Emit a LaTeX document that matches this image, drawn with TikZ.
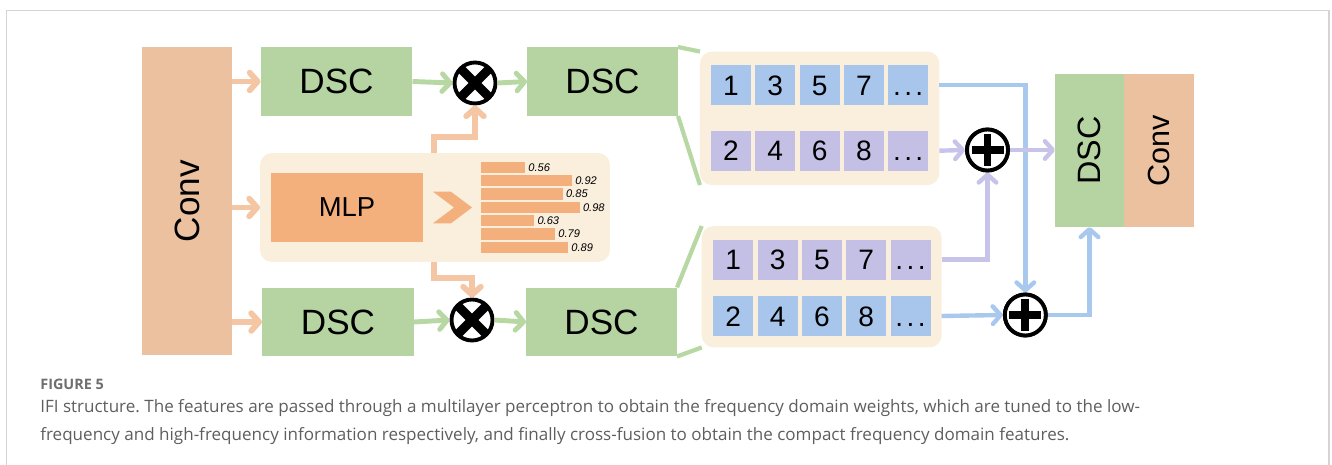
\documentclass[tikz,border=0pt]{standalone}
\usepackage{fontspec}
\setmainfont{Liberation Sans}
\newfontfamily\capfont{Open Sans}
\usetikzlibrary{arrows.meta,backgrounds}
\frenchspacing
\newcommand\celldots{.\kern0.12em.\kern0.12em.}

\definecolor{convc}{HTML}{EBC19F}
\definecolor{dscc}{HTML}{B5D4A1}
\definecolor{mlpc}{HTML}{F4B07C}
\definecolor{panelc}{HTML}{FAEEDC}
\definecolor{cellblue}{HTML}{A8C5EB}
\definecolor{celllav}{HTML}{C4C0E5}
\definecolor{arrorange}{HTML}{F5C6A3}
\definecolor{arrgreen}{HTML}{B7D8A3}
\definecolor{lineblue}{HTML}{A9C8EE}
\definecolor{linelav}{HTML}{C8C4E9}
\definecolor{framec}{HTML}{D4D4D4}
\definecolor{capgray}{HTML}{5E5E5E}

\begin{document}
\begin{tikzpicture}[x=0.02cm,y=-0.02cm,
  bigtxt/.style={font=\fontsize{20}{24}\selectfont},
  blk/.style={rectangle,inner sep=0pt,outer sep=0pt},
  convbox/.style={blk,fill=convc},
  dscbox/.style={blk,fill=dscc,minimum width=3.04cm,minimum height=1.38cm,bigtxt},
  panelbox/.style={blk,fill=panelc,rounded corners=0.24cm},
  cellbox/.style={blk,minimum size=0.8cm,text height=11.5pt,text depth=0pt,font=\fontsize{16}{19}\selectfont},
  barbox/.style={blk,fill=mlpc,minimum height=0.23cm,anchor=west},
  barlbl/.style={inner sep=0pt,anchor=west,font=\fontsize{6.3}{7}\selectfont\itshape},
  opnode/.style={circle,draw=black,line width=2.2pt,fill=white,minimum size=0.82cm,inner sep=0pt},
  tipbarb/.tip={Straight Barb[length=4.5pt,width=10pt,round]},
  oarr/.style={draw=arrorange,line width=3.3pt,-tipbarb},
  garr/.style={draw=arrgreen,line width=2.8pt,-tipbarb},
  gfan/.style={draw=arrgreen,line width=2.4pt},
  barr/.style={draw=lineblue,line width=2.5pt,-tipbarb},
  larr/.style={draw=linelav,line width=2.5pt,-tipbarb},
  captxt/.style={inner sep=0pt,anchor=base west,text=capgray,font=\capfont\fontsize{9.7}{11}\selectfont}]

\useasboundingbox (0,0) rectangle (1332,465);

% outer frame
\draw[framec,line width=0.9pt] (6.5,466) -- (6.5,10.5) -- (1329,10.5) -- (1329,466);

% input convolution
\node[convbox,minimum width=1.8cm,minimum height=6.16cm] (conv1) at (187,201) {};
\node[rotate=90,bigtxt,inner sep=0pt] (conv1t) at (conv1) {Conv};

% depthwise separable convolutions
\node[dscbox] (d1a) at (336.5,81.5) {DSC};
\node[dscbox] (d1b) at (338,322) {DSC};
\node[dscbox,minimum width=3.02cm] (d2a) at (602.5,81.5) {DSC};
\node[dscbox,minimum width=3.02cm] (d2b) at (601.5,322) {DSC};

% MLP weighting branch
\node[panelbox,minimum width=7cm,minimum height=2.18cm] (mpanel) at (435,207.5) {};
\node[blk,fill=mlpc,minimum width=3.04cm,minimum height=1.38cm,
      font=\fontsize{15.6}{18}\selectfont] (mlp) at (347,207.5) {MLP};
\fill[mlpc] (433,191.7) -- (451,191.7) -- (472,207.5) -- (451,223.3)
            -- (433,223.3) -- (454,207.5) -- cycle;
\foreach \v [count=\i from 0] in {0.56,0.92,0.85,0.98,0.63,0.79,0.89}{
  \pgfmathsetmacro\bw{(130*\v-28.5)*0.02}
  \node[barbox,minimum width=\bw cm] (bar\i) at (481,167.4+13.33*\i) {};
  \node[barlbl] (barl\i) at ([xshift=1.6pt]bar\i.east) {\v};
}

% multiplication operators
\node[opnode] (m1) at (475,83) {};
\node[opnode] (m2) at (472,320) {};
\foreach \m in {m1,m2}{
  \draw[line width=5.2pt,shift={(\m.center)}] (-13.5,-13.5) -- (13.5,13.5) (-13.5,13.5) -- (13.5,-13.5);
}

% frequency feature panels
\node[panelbox,minimum width=4.79cm,minimum height=2.67cm] (fa) at (819.7,118.3) {};
\node[panelbox,minimum width=4.8cm,minimum height=2.43cm] (fb) at (821.7,286.7) {};

\foreach \t [count=\i] in {1,3,5,7,\celldots}{
  \pgfmathsetmacro\cx{731+44.3*(\i-1)}
  \node[cellbox,fill=cellblue] (a\i) at (\cx,85) {\t};
}
\foreach \t [count=\i from 6] in {2,4,6,8,\celldots}{
  \pgfmathsetmacro\cx{731+44.3*(\i-6)}
  \node[cellbox,fill=celllav] (a\i) at (\cx,150.7) {\t};
}
\foreach \t [count=\i] in {1,3,5,7,\celldots}{
  \pgfmathsetmacro\cx{733.3+44.3*(\i-1)}
  \node[cellbox,fill=celllav] (b\i) at (\cx,259.7) {\t};
}
\foreach \t [count=\i from 6] in {2,4,6,8,\celldots}{
  \pgfmathsetmacro\cx{733.3+44.3*(\i-6)}
  \node[cellbox,fill=cellblue] (b\i) at (\cx,316) {\t};
}

% addition operators
\node[opnode] (p1) at (987.5,150) {};
\node[opnode] (p2) at (1025.3,315) {};

% output block
\node[blk,fill=dscc,minimum width=1.38cm,minimum height=3.06cm] (dscF) at (1089.5,150.5) {};
\node[rotate=90,inner sep=0pt,font=\fontsize{18.4}{22}\selectfont] (dscFt) at (dscF) {DSC};
\node[blk,fill=convc,minimum width=1.4cm,minimum height=3.06cm] (convF) at (1159,150.5) {};
\node[rotate=90,inner sep=0pt,font=\fontsize{17.4}{21}\selectfont] (convFt) at (convF) {Conv};

% fan-out lines behind the feature panels
\begin{scope}[on background layer]
  \draw[gfan] (d2a.north east) -- (fa.north west);
  \draw[gfan] (d2a.south east) -- (fa.south west);
  \draw[gfan] (d2b.north east) -- (fb.north west);
  \draw[gfan] (d2b.south east) -- (fb.south west);
\end{scope}

% input arrows
\draw[oarr] (conv1.east |- d1a.west) -- (d1a.west);
\draw[oarr] (conv1.east |- mpanel.west) -- (mpanel.west);
\draw[oarr] (conv1.east |- d1b.west) -- (d1b.west);

% weights into the multiplications
\coordinate (wtop) at (434,137);
\coordinate (wbot) at (434,278);
\draw[oarr] (wtop |- mpanel.north) -- (wtop) -| (m1.south);
\draw[oarr] (wbot |- mpanel.south) -- (wbot) -| (m2.north);

% DSC -> multiply -> DSC
\draw[garr] (d1a.east) -- (m1.west);
\draw[garr] (m1.east) -- (d2a.west);
\draw[garr] (d1b.east) -- (m2.west);
\draw[garr] (m2.east) -- (d2b.west);

% cross fusion
\draw[barr] (fa.east |- a5.east) -| (p2.north);
\draw[larr] (fa.east |- a10.east) -- (p1.west);
\draw[larr] (p1.east) -- (dscF.west |- p1.east);
\draw[larr] (fb.east |- b5.east) -| (p1.south);
\draw[barr] (fb.east |- b10.east) -- (p2.west);
\draw[barr] (p2.east) -| (dscF.south);

% plus signs drawn over the arrow tips
\foreach \p in {p1,p2}{
  \node[opnode] at (\p) {};
  \draw[line width=4.5pt,shift={(\p.center)}] (-16,0) -- (16,0) (0,-16) -- (0,16);
}

% caption
\node[captxt,font=\capfont\bfseries\fontsize{8.2}{10}\selectfont,text=capgray!90] (figlbl) at (40,390) {FIGURE 5};
\node[captxt] (cap1) at (40,413) {IFI structure. The features are passed through a multilayer perceptron to obtain the frequency domain weights, which are tuned to the low-};
\node[captxt] (cap2) at (40,441) {frequency and high-frequency information respectively, and finally cross-fusion to obtain the compact frequency domain features.};
\end{tikzpicture}
\end{document}
